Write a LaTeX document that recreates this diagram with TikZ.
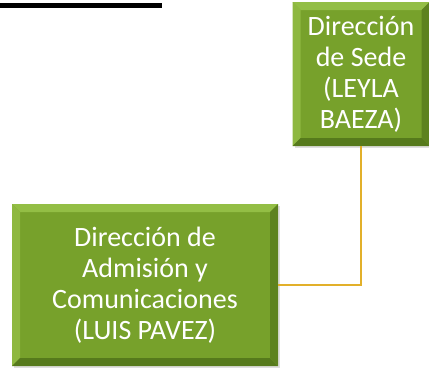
\documentclass[tikz,border=0pt]{standalone}
\usepackage{fontspec}
\setmainfont{Carlito}
\usetikzlibrary{positioning,shadows,calc}

\definecolor{boxgreen}{HTML}{77A12B}
\definecolor{bevellight}{HTML}{93BE45}
\definecolor{beveldark}{HTML}{567A1C}
\definecolor{linkgold}{HTML}{E2B02A}

\begin{document}
\begin{tikzpicture}[x=1pt, y=1pt,
            unit/.style={rectangle, fill=boxgreen, text=white, align=center, inner sep=0pt,
                font=\fontsize{28}{31}\selectfont,
                drop shadow={opacity=0.25, shadow xshift=2pt, shadow yshift=-2pt},
                path picture={ % bevel round the box
                    \coordinate (nw) at (path picture bounding box.north west);
                    \coordinate (ne) at (path picture bounding box.north east);
                    \coordinate (sw) at (path picture bounding box.south west);
                    \coordinate (se) at (path picture bounding box.south east);
                    \fill[bevellight] (nw) -- (ne) -- ($(ne)+(-8,-8)$) -- ($(nw)+(8,-8)$) -- cycle;
                    \fill[bevellight!80!boxgreen] (nw) -- (sw) -- ($(sw)+(8,8)$) -- ($(nw)+(8,-8)$) -- cycle;
                    \fill[beveldark] (sw) -- (se) -- ($(se)+(-8,8)$) -- ($(sw)+(8,8)$) -- cycle;
                    \fill[beveldark!80!boxgreen] (ne) -- (se) -- ($(se)+(-8,8)$) -- ($(ne)+(-8,-8)$) -- cycle;
                }},
            link/.style={draw=linkgold, line width=2.2pt},
        ]
        \useasboundingbox (0,0) rectangle (429,368);

        % rule at the top
        \fill[black] (0,360) rectangle (162,365);

        \node (sede) [unit, minimum width=137, minimum height=144] at (361,294)
            {Dirección\\de Sede\\(LEYLA\\BAEZA)};
        \node (admision) [unit, minimum width=266, minimum height=162] at (145,83)
            {Dirección de\\Admisión y\\Comunicaciones\\(LUIS PAVEZ)};

        \draw[link] (sede.south) |- (admision.east);
    \end{tikzpicture}
\end{document}
